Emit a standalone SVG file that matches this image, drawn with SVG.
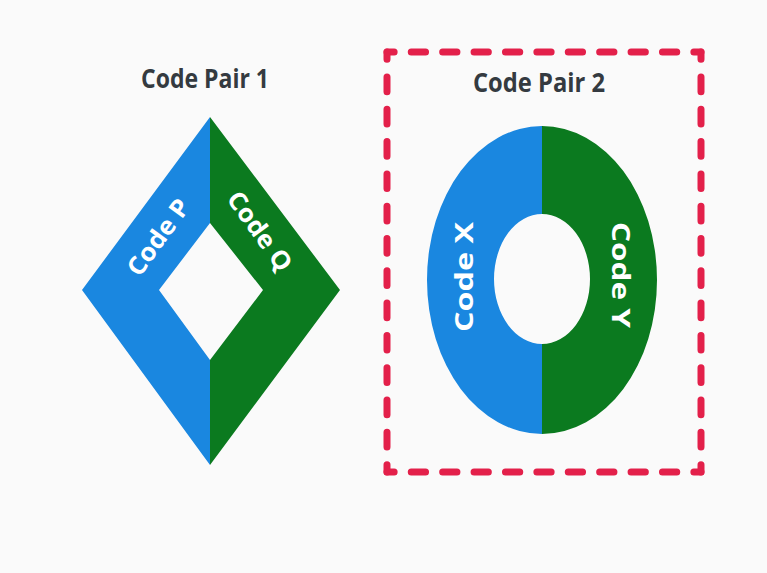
<svg xmlns="http://www.w3.org/2000/svg" width="767" height="573" viewBox="0 0 767 573">
<style>
.title{font-family:"Open Sans","Liberation Sans",sans-serif;font-weight:700;font-size:27px;fill:#343a40;text-anchor:middle}
.lbl{font-family:"Open Sans","Liberation Sans",sans-serif;font-weight:700;font-size:25px;fill:#ffffff;text-anchor:middle}
.blue{fill:#1a87e0}
.green{fill:#0b7a1f}
.dash{fill:none;stroke:#e3204a;stroke-width:7;stroke-linecap:round;stroke-dasharray:15 18;stroke-dashoffset:7.5}
</style>
<rect width="767" height="573" fill="#fafafa"/>
<g id="connectors"></g>
<g id="pair1">
<text class="title" x="205" y="88" textLength="128" lengthAdjust="spacingAndGlyphs">Code Pair 1</text>
<g id="codeP">
<path class="blue" d="M210,117 L82,290 L210,465 L210,360 L159,290 L210,223 Z"/>
<text class="lbl" transform="translate(158,237) rotate(-54)" y="9" textLength="88" lengthAdjust="spacingAndGlyphs">Code P</text>
</g>
<g id="codeQ">
<path class="green" d="M210,117 L340,290 L210,465 L210,360 L263,290 L210,223 Z"/>
<text class="lbl" transform="translate(260,231) rotate(54)" y="9" textLength="92" lengthAdjust="spacingAndGlyphs">Code Q</text>
</g>
</g>
<g id="pair2">
<path class="dash" pathLength="330" d="M387,52 H701"/>
<path class="dash" pathLength="429" d="M701,52 V472"/>
<path class="dash" pathLength="330" d="M701,472 H387"/>
<path class="dash" pathLength="429" d="M387,472 V52"/>
<text class="title" x="539" y="92" textLength="132" lengthAdjust="spacingAndGlyphs">Code Pair 2</text>
<g id="codeX">
<path class="blue" d="M542,126 A115,154 0 0 0 542,434 L542,344 A48,65 0 0 1 542,214 Z"/>
<text class="lbl" transform="translate(464,277) rotate(-90)" y="9" textLength="110" lengthAdjust="spacingAndGlyphs">Code X</text>
</g>
<g id="codeY">
<path class="green" d="M542,126 A115,154 0 0 1 542,434 L542,344 A48,65 0 0 0 542,214 Z"/>
<text class="lbl" transform="translate(621,275) rotate(90)" y="9" textLength="106" lengthAdjust="spacingAndGlyphs">Code Y</text>
</g>
</g>
</svg>
